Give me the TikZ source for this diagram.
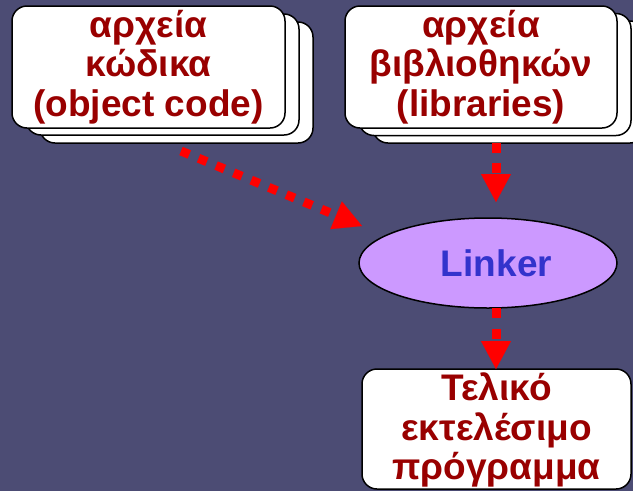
\documentclass[tikz,border=0pt]{standalone}
\usepackage{fontspec}
\setmainfont{Liberation Sans}
\usetikzlibrary{arrows.meta,shapes.geometric}
\definecolor{bgc}{RGB}{76,76,116}
\definecolor{txtred}{RGB}{153,0,0}
\definecolor{linkfill}{RGB}{204,153,255}
\definecolor{linktxt}{RGB}{51,51,204}
\tikzset{
  card/.style={draw=black, line width=1.5pt, fill=white, rounded corners=15pt},
  cardtext/.style={inner sep=0pt, align=center, text=txtred, font=\fontsize{37}{39.5}\selectfont\bfseries},
  flow/.style={draw=red, line width=9pt, dash pattern=on 9pt off 10pt,
    -{Triangle[length=28pt,width=30pt,line width=0.1pt]}},
}
\begin{document}
\begin{tikzpicture}[x=1pt,y=-1pt]
\fill[bgc] (0,0) rectangle (633,491);
\useasboundingbox (0,0) rectangle (633,491);
\clip (0,0) rectangle (633,491);
% object code cards
\draw[card] (40,22) rectangle (313,143);
\draw[card] (26,14) rectangle (299,135);
\draw[card] (12,6) rectangle (285,128);
\node[cardtext] (obj) at (148.5,67) {αρχεία\\κώδικα\\(object code)};
% libraries cards
\draw[card] (373,21) rectangle (645,143);
\draw[card] (359,13.5) rectangle (631,135.5);
\draw[card] (345,6) rectangle (617,128);
\node[cardtext] (lib) at (481,67) {αρχεία\\βιβλιοθηκών\\(libraries)};
% linker
\node[ellipse, draw=black, line width=1.5pt, fill=linkfill, minimum width=258pt, minimum height=90pt,
  inner sep=0pt, text=linktxt, font=\fontsize{37}{39}\selectfont\bfseries] (linker) at (488,263) {\hspace*{17pt}Linker};
% final program
\draw[card] (362,369) rectangle (631,489);
\node[cardtext] (prog) at (496.5,430) {Τελικό\\εκτελέσιμο\\πρόγραμμα};
% connectors
\coordinate (objout) at (181,151);
\coordinate (linkin) at (362,226);
\coordinate (libout) at (496,143);
\coordinate (linktop) at (496,202);
\coordinate (linkbot) at (496,308);
\coordinate (progtop) at (496,369);
\draw[flow] (objout) -- (linkin);
\draw[flow, dash pattern=on 10pt off 10pt] (libout) -- (linktop);
\draw[flow, dash pattern=on 10pt off 11pt] (linkbot) -- (progtop);
\end{tikzpicture}
\end{document}
